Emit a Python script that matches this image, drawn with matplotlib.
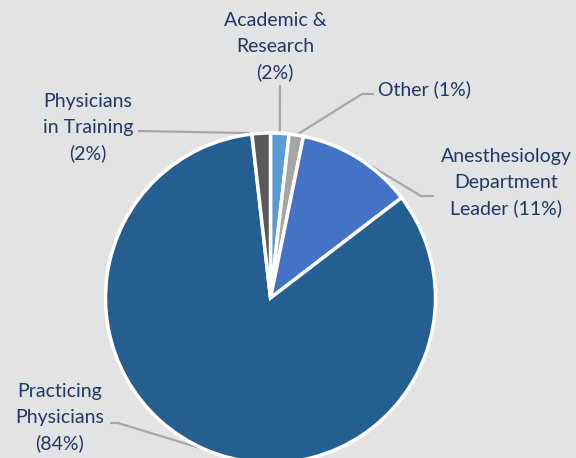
import numpy as np
import matplotlib
matplotlib.use('Agg')
import matplotlib.pyplot as plt

labels = ['Academic &\nResearch\n(2%)', 'Other (1%)',
          'Anesthesiology\nDepartment\nLeader (11%)',
          'Practicing\nPhysicians\n(84%)', 'Physicians\nin Training\n(2%)']
# slice sizes (the labels are rounded)
shares = [1.8, 1.4, 11.4, 83.6, 1.8]
colors = ['#5B9BD5', '#A5A5A5', '#4472C4', '#255E91', '#595959']

W, H = 576, 458
bg = '#E2E3E5'
navy = '#1F3864'
line_c = '#A6A6A6'

fig = plt.figure(figsize=(W / 100, H / 100), dpi=100, facecolor=bg)
ax = fig.add_axes([0, 0, 1, 1])
ax.set_facecolor(bg)

cx, cy, r = 270.5, H - 298, 165
wedges, _ = ax.pie(shares, colors=colors, startangle=90, counterclock=False,
                   center=(cx, cy), radius=r,
                   wedgeprops=dict(edgecolor='white', linewidth=2.5))
ax.set_xlim(0, W)
ax.set_ylim(0, H)
ax.set_aspect('equal')
ax.axis('off')

# label centre (pixel coords from top-left) and leader elbow points
layout = [
    dict(xy=(275, 47), path=[(280, 85)]),
    dict(xy=(424, 89), path=[(362, 94), (374, 94)]),
    dict(xy=(506, 183), path=[(421, 196), (434, 196)]),
    dict(xy=(60, 418), path=[(118, 423), (110, 423)]),
    dict(xy=(88, 128), path=[(138, 131)]),
]

for w, lab, lay in zip(wedges, labels, layout):
    mid = np.deg2rad((w.theta1 + w.theta2) / 2)
    edge = (cx + r * np.cos(mid), cy + r * np.sin(mid))
    pts = [edge] + [(x, H - y) for x, y in lay['path']]
    xs, ys = zip(*pts)
    ax.plot(xs, ys, color=line_c, lw=1.6, zorder=0.5, solid_capstyle='butt')
    tx, ty = lay['xy']
    ax.text(tx, H - ty, lab, ha='center', va='center', color=navy,
            fontsize=14, family='Lato', linespacing=1.6)

fig.savefig('out.png', dpi=100, facecolor=bg)
